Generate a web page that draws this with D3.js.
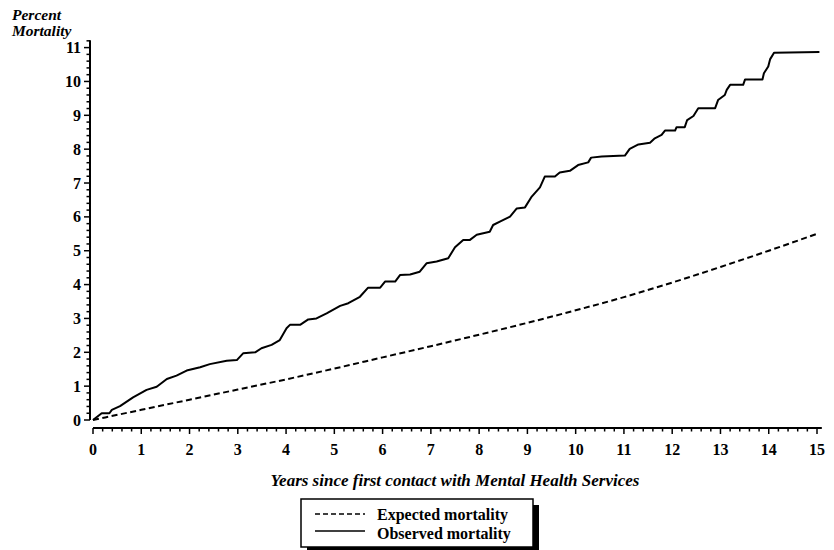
<!DOCTYPE html>
<html><head><meta charset="utf-8">
<script src="https://cdn.jsdelivr.net/npm/d3@7"></script>
<style>
body{margin:0;background:#fff;}
text{font-family:"Liberation Serif","Times New Roman",serif;font-weight:bold;fill:#000;}
</style></head>
<body><svg id="c" width="834" height="550"></svg>
<script>
// Expected mortality (percent) by years
const expectedYears = [0,1,2,3,4,5,6,7,8,9,10,11,12,13,14,15];
const expectedValues = [0,0.30,0.60,0.90,1.20,1.52,1.85,2.18,2.52,2.87,3.24,3.63,4.06,4.52,5.00,5.50];
// Observed mortality (percent)
const observedYears = [0,0.18,0.34,0.39,0.56,0.83,1.11,1.32,1.53,1.73,1.94,2.22,2.42,2.77,2.98,3.11,3.36,3.49,3.70,3.87,4.01,4.08,4.29,4.46,4.63,4.84,5.12,5.29,5.53,5.70,5.95,6.05,6.26,6.36,6.57,6.77,6.91,7.12,7.36,7.50,7.67,7.81,7.95,8.22,8.29,8.43,8.64,8.78,8.95,9.09,9.26,9.36,9.57,9.67,9.88,10.05,10.26,10.32,10.54,11.02,11.12,11.30,11.54,11.64,11.78,11.85,12.06,12.09,12.26,12.31,12.44,12.54,12.89,12.95,13.09,13.13,13.20,13.47,13.51,13.87,13.90,13.99,14.03,14.11,15.05];
const observedValues = [0,0.20,0.20,0.30,0.41,0.67,0.89,0.98,1.21,1.31,1.46,1.56,1.65,1.75,1.77,1.97,2.00,2.12,2.22,2.36,2.71,2.81,2.81,2.97,3.00,3.15,3.37,3.45,3.64,3.91,3.91,4.09,4.09,4.28,4.30,4.38,4.63,4.68,4.78,5.10,5.32,5.32,5.47,5.56,5.76,5.86,6.01,6.25,6.28,6.60,6.87,7.19,7.19,7.31,7.36,7.53,7.61,7.75,7.78,7.81,8.01,8.14,8.19,8.32,8.42,8.55,8.55,8.65,8.65,8.86,8.98,9.21,9.21,9.45,9.60,9.75,9.90,9.90,10.06,10.06,10.24,10.44,10.66,10.85,10.87];
const xTicks = [0,1,2,3,4,5,6,7,8,9,10,11,12,13,14,15];
const yTicks = [0,1,2,3,4,5,6,7,8,9,10,11];
const legendLabels = ["Expected mortality","Observed mortality"];

const svg = d3.select("#c");
const x = d3.scaleLinear().domain([0,15]).range([93,817]);
const y = d3.scaleLinear().domain([0,11]).range([420,47.6]);

// minor ticks every 0.2
const xMinor = d3.range(0,15.01,0.2).map(v=>+v.toFixed(1));
const yMinor = d3.range(0,11.21,0.2).map(v=>+v.toFixed(1));

// X axis
const gx = svg.append("g").attr("transform","translate(0,428)");
gx.append("line").attr("x1",x(0)).attr("x2",x(15.1)).attr("stroke","#000").attr("stroke-width",2);
gx.selectAll("line.mn").data(xMinor).join("line").attr("class","mn")
  .attr("x1",d=>x(d)).attr("x2",d=>x(d)).attr("y1",0).attr("y2",d=>Number.isInteger(d)?6:3.5)
  .attr("stroke","#000").attr("stroke-width",1.5);
gx.selectAll("text").data(xTicks).join("text")
  .attr("x",d=>x(d)).attr("y",27).attr("text-anchor","middle").attr("font-size",16).text(d=>d);

// Y axis
const gy = svg.append("g").attr("transform","translate(90,0)");
gy.append("line").attr("y1",y(0)).attr("y2",y(11.22)).attr("stroke","#000").attr("stroke-width",2);
gy.selectAll("line.mn").data(yMinor).join("line").attr("class","mn")
  .attr("y1",d=>y(d)).attr("y2",d=>y(d)).attr("x1",0).attr("x2",d=>Number.isInteger(d)?-6:-3.5)
  .attr("stroke","#000").attr("stroke-width",1.5);
gy.selectAll("text").data(yTicks).join("text")
  .attr("x",-9).attr("y",d=>y(d)).attr("dy","0.35em").attr("text-anchor","end").attr("font-size",16).text(d=>d);

// Titles
svg.append("text").attr("x",12).attr("y",20).attr("font-size",15.5).attr("font-style","italic").text("Percent");
svg.append("text").attr("x",12).attr("y",36).attr("font-size",15.5).attr("font-style","italic").text("Mortality");
svg.append("text").attr("x",455).attr("y",486).attr("text-anchor","middle").attr("font-size",17).attr("font-style","italic")
  .text("Years since first contact with Mental Health Services");

// Lines
const expData = expectedYears.map((t,i)=>[t,expectedValues[i]]);
const obsData = observedYears.map((t,i)=>[t,observedValues[i]]);
svg.append("path").datum(expData)
  .attr("d",d3.line().x(d=>x(d[0])).y(d=>y(d[1])).curve(d3.curveMonotoneX))
  .attr("fill","none").attr("stroke","#000").attr("stroke-width",2).attr("stroke-dasharray","6,3.5");
svg.append("path").datum(obsData)
  .attr("d",d3.line().x(d=>x(d[0])).y(d=>y(d[1])))
  .attr("fill","none").attr("stroke","#000").attr("stroke-width",2).attr("stroke-linejoin","round");

// Legend
const lg = svg.append("g");
lg.append("rect").attr("x",307).attr("y",505).attr("width",232).attr("height",48).attr("fill","#000");
lg.append("rect").attr("x",301).attr("y",499).attr("width",232).attr("height",48).attr("fill","#fff").attr("stroke","#000").attr("stroke-width",1.5);
lg.append("line").attr("x1",315).attr("x2",365).attr("y1",514).attr("y2",514).attr("stroke","#000").attr("stroke-width",1.5).attr("stroke-dasharray","5,3");
lg.append("line").attr("x1",315).attr("x2",365).attr("y1",531).attr("y2",531).attr("stroke","#000").attr("stroke-width",1.5);
lg.append("text").attr("x",377).attr("y",520).attr("font-size",16).text(legendLabels[0]);
lg.append("text").attr("x",377).attr("y",539).attr("font-size",16).text(legendLabels[1]);
</script></body></html>
